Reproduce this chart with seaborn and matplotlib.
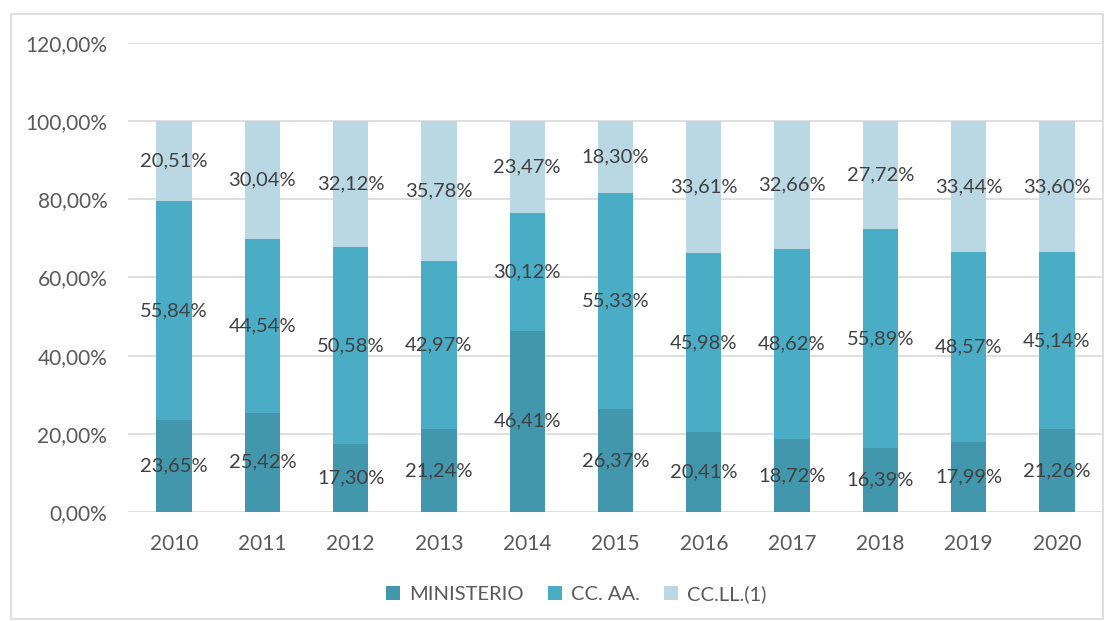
import numpy as np
import pandas as pd
import matplotlib
matplotlib.use("Agg")
import matplotlib.pyplot as plt
from matplotlib.patches import Patch, Rectangle
import seaborn as sns

years = ["2010", "2011", "2012", "2013", "2014", "2015", "2016", "2017", "2018", "2019", "2020"]
ministerio = [23.65, 25.42, 17.30, 21.24, 46.41, 26.37, 20.41, 18.72, 16.39, 17.99, 21.26]
ccaa = [55.84, 44.54, 50.58, 42.97, 30.12, 55.33, 45.98, 48.62, 55.89, 48.57, 45.14]
ccll = [20.51, 30.04, 32.12, 35.78, 23.47, 18.30, 33.61, 32.66, 27.72, 33.44, 33.60]
series_names = ["MINISTERIO", "CC. AA.", "CC.LL.(1)"]
colors = ["#4397AD", "#4BACC6", "#B9D8E4"]

sns.set_theme(style="white")
plt.rcParams["font.family"] = ["Lato", "DejaVu Sans"]

df = pd.DataFrame({"year": years, "m": ministerio, "a": ccaa, "l": ccll})
df["c1"] = df["m"]
df["c2"] = df["m"] + df["a"]
df["c3"] = df["m"] + df["a"] + df["l"]

fig = plt.figure(figsize=(11.14, 6.21), dpi=100)
ax = fig.add_axes([0.115, 0.1755, 0.875, 0.7553])

for col, c in zip(["c3", "c2", "c1"], colors[::-1]):
    sns.barplot(data=df, x="year", y=col, color=c, width=0.4, ax=ax,
                saturation=1, edgecolor="none", linewidth=0, zorder=3)

# segment labels
txtc = "#404040"
for i in range(len(years)):
    bottoms = [0, ministerio[i], ministerio[i] + ccaa[i]]
    for v, b in zip([ministerio[i], ccaa[i], ccll[i]], bottoms):
        ax.text(i, b + v / 2, f"{v:.2f}%".replace(".", ","), ha="center", va="center",
                fontsize=14.5, color=txtc, zorder=5)

ax.set_ylim(0, 120)
ax.set_xlim(-0.52, 10.52)
yt = [0, 20, 40, 60, 80, 100, 120]
ax.set_yticks(yt)
ax.set_yticklabels([f"{v:.2f}%".replace(".", ",") for v in yt], fontsize=15, color="#595959")
ax.tick_params(axis="x", labelsize=15, colors="#595959", length=0, pad=16)
ax.tick_params(axis="y", length=0, pad=15)
ax.set_xlabel("")
ax.set_ylabel("")
ax.yaxis.grid(True, color="#D9D9D9", linewidth=1.2, zorder=0)
ax.set_axisbelow(True)
for s in ax.spines.values():
    s.set_visible(False)

handles = [Patch(facecolor=c, edgecolor="none") for c in colors]
fig.legend(handles, series_names, loc="center", bbox_to_anchor=(0.517, 0.043), ncol=3,
           frameon=False, fontsize=14.5, handlelength=0.7, handleheight=0.7,
           handletextpad=0.45, columnspacing=1.2, labelcolor="#595959")

fig.patches.append(Rectangle((11 / 1114, 2 / 621), 1092 / 1114, 605 / 621, transform=fig.transFigure,
                             fill=False, edgecolor="#D9D9D9", linewidth=1.2))

fig.savefig("out.png", dpi=100)
